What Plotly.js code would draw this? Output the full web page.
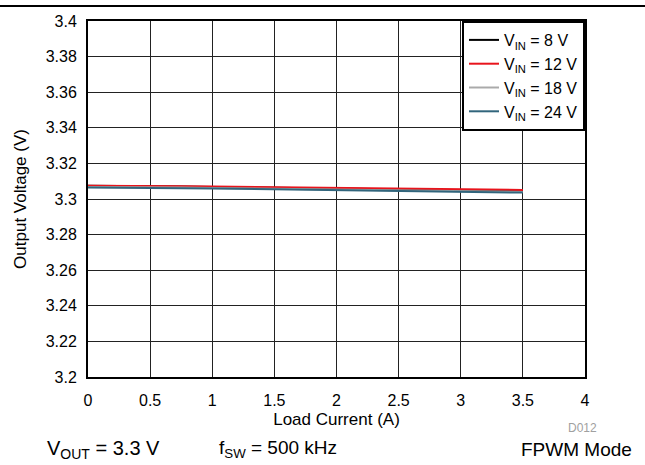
<!DOCTYPE html>
<html>
<head>
<meta charset="utf-8">
<script src="https://cdn.plot.ly/plotly-3.0.1.min.js"></script>
<style>html,body{margin:0;padding:0;background:#fff;}#chart{width:645px;height:465px;}</style>
</head>
<body>
<div id="chart"></div>
<script>
var loadCurrent = [0, 0.1, 0.25, 0.5, 0.75, 1, 1.25, 1.5, 1.75, 2, 2.25, 2.5, 2.75, 3, 3.25, 3.5];
var vin8  = [3.3074, 3.3074, 3.3073, 3.3071, 3.3070, 3.3068, 3.3066, 3.3064, 3.3062, 3.3060, 3.3058, 3.3056, 3.3053, 3.3051, 3.3049, 3.3046];
var vin12 = [3.3075, 3.3075, 3.3074, 3.3073, 3.3071, 3.3070, 3.3068, 3.3066, 3.3064, 3.3063, 3.3061, 3.3059, 3.3057, 3.3055, 3.3053, 3.3051];
var vin18 = [3.3068, 3.3068, 3.3067, 3.3066, 3.3064, 3.3062, 3.3060, 3.3058, 3.3056, 3.3054, 3.3052, 3.3050, 3.3047, 3.3045, 3.3043, 3.3040];
var vin24 = [3.3064, 3.3064, 3.3063, 3.3062, 3.3061, 3.3059, 3.3057, 3.3055, 3.3053, 3.3051, 3.3049, 3.3047, 3.3044, 3.3042, 3.3039, 3.3036];
var seriesNames = ["V<sub>IN</sub> = 8 V", "V<sub>IN</sub> = 12 V", "V<sub>IN</sub> = 18 V", "V<sub>IN</sub> = 24 V"];
var seriesColors = ["#000000", "#e8141c", "#aaaaaa", "#31657c"];
var xTicks = [0, 0.5, 1, 1.5, 2, 2.5, 3, 3.5, 4];
var xTickText = ["0", "0.5", "1", "1.5", "2", "2.5", "3", "3.5", "4"];
var yTicks = [3.2, 3.22, 3.24, 3.26, 3.28, 3.3, 3.32, 3.34, 3.36, 3.38, 3.4];
var yTickText = ["3.2", "3.22", "3.24", "3.26", "3.28", "3.3", "3.32", "3.34", "3.36", "3.38", "3.4"];

var ys = [vin8, vin12, vin18, vin24];
var traces = ys.map(function (y, i) {
  return {x: loadCurrent, y: y, name: seriesNames[i], type: 'scatter', mode: 'lines',
          line: {color: seriesColors[i], width: 2}};
});

var F = 'Liberation Sans, Arial, sans-serif';
var W = 645, H = 465, ml = 88, mr = 60, mt = 21, mb = 88;
var pw = W - ml - mr, ph = H - mt - mb;
function py(pix) { return (H - mb - pix) / ph; }
function px(pix) { return (pix - ml) / pw; }

var layout = {
  width: W, height: H,
  margin: {l: ml, r: mr, t: mt, b: mb},
  paper_bgcolor: '#fff', plot_bgcolor: '#fff',
  font: {family: F, size: 16, color: '#000'},
  showlegend: true,
  legend: {x: 1, y: 1, xanchor: 'right', yanchor: 'top', bgcolor: '#fff',
           bordercolor: '#000', borderwidth: 2, font: {family: F, size: 16},
           tracegroupgap: 0},
  xaxis: {range: [0, 4], tickvals: xTicks, ticktext: xTickText, showgrid: true,
          gridcolor: '#222', gridwidth: 1, zeroline: false, showline: true, mirror: true,
          linecolor: '#000', linewidth: 2, ticks: '', ticklen: 0, ticklabelstandoff: 8,
          tickfont: {family: F, size: 16},
          title: {text: 'Load Current (A)', font: {family: F, size: 17}, standoff: 5}},
  yaxis: {range: [3.2, 3.4], tickvals: yTicks, ticktext: yTickText, showgrid: true,
          gridcolor: '#222', gridwidth: 1, zeroline: false, showline: true, mirror: true,
          linecolor: '#000', linewidth: 2, ticks: '', ticklen: 0, ticklabelstandoff: 6,
          tickfont: {family: F, size: 16},
          title: {text: 'Output Voltage (V)', font: {family: F, size: 17}, standoff: 15}},
  shapes: [{type: 'line', xref: 'paper', yref: 'paper',
            x0: px(0), x1: px(W), y0: py(6), y1: py(6),
            line: {color: '#000', width: 2}}],
  annotations: [
    {xref: 'paper', yref: 'paper', x: px(103), y: py(449),
     text: 'V<sub>OUT</sub> = 3.3 V', showarrow: false, font: {family: F, size: 20},
     xanchor: 'center', yanchor: 'middle'},
    {xref: 'paper', yref: 'paper', x: px(278), y: py(449),
     text: 'f<sub>SW</sub> = 500 kHz', showarrow: false, font: {family: F, size: 19},
     xanchor: 'center', yanchor: 'middle'},
    {xref: 'paper', yref: 'paper', x: px(634), y: py(449),
     text: 'FPWM Mode', showarrow: false, font: {family: F, size: 19},
     xanchor: 'right', yanchor: 'middle'},
    {xref: 'paper', yref: 'paper', x: px(599), y: py(428),
     text: 'D012', showarrow: false, font: {family: F, size: 12, color: '#a0a0a0'},
     xanchor: 'right', yanchor: 'middle'}
  ]
};

Plotly.newPlot('chart', traces, layout, {displayModeBar: false, staticPlot: true});
</script>
</body>
</html>
